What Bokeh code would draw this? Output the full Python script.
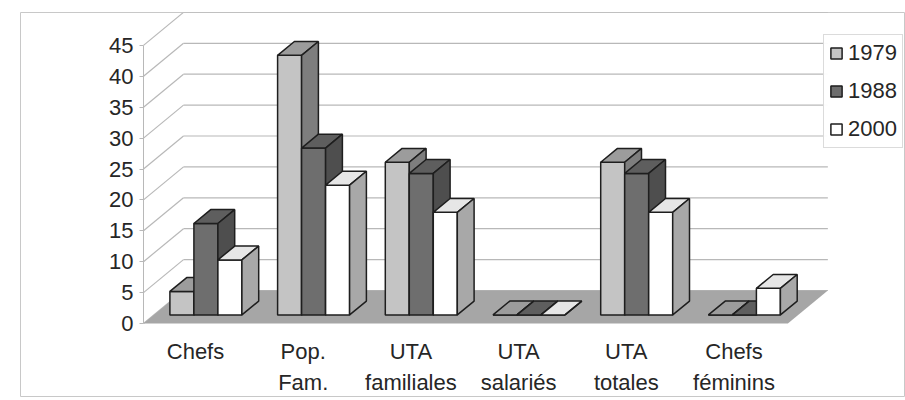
from bokeh.plotting import figure
from bokeh.models import FixedTicker, Legend, LegendItem, Range1d
from bokeh.embed import file_html
from bokeh.resources import INLINE
from bokeh.core.properties import value

# ---- data -------------------------------------------------------------
categories = ["Chefs", "Pop.\nFam.", "UTA\nfamiliales", "UTA\nsalariés",
              "UTA\ntotales", "Chefs\nféminins"]
years = ["1979", "1988", "2000"]
v1979 = [3.8, 42.0, 24.7, 0.0, 24.7, 0.0]
v1988 = [14.8, 27.0, 22.9, 0.0, 22.9, 0.0]
v2000 = [8.9, 21.0, 16.6, 0.0, 16.6, 4.3]
y_ticks = [0, 5, 10, 15, 20, 25, 30, 35, 40, 45]

# ---- styles -----------------------------------------------------------
FONT = "Liberation Sans"
TEXT_COLOR = "#262626"
front_colors = ["#c4c4c4", "#6e6e6e", "#ffffff"]
top_colors = ["#9c9c9c", "#5e5e5e", "#e6e6e6"]
side_colors = ["#7e7e7e", "#4e4e4e", "#a8a8a8"]
EDGE = "#1e1e1e"
FLOOR = "#a6a6a6"
GRID = "#b8b8b8"

# ---- projection geometry (pixels per unit) ----------------------------
PXX = 107.7          # px per category step
PXY = 6.18           # px per value unit
DX = 40 / PXX        # depth vector (x, in category units)
DY = 33 / PXY        # depth vector (y, in value units)
T0, T1 = 0.26, 0.68  # bar front / back depth fraction
BW = 24 / PXX        # bar width
WALL_L = -52 / PXX   # front plane of the left wall
WALL_R = 5.5         # right end of floor / back wall

p = figure(width=905, height=400, output_backend="svg", toolbar_location=None,
           x_axis_location=None,
           x_range=Range1d((20 - 195) / PXX, (905 - 195) / PXX),
           y_range=Range1d((323 - 396) / PXY, (323 - 12) / PXY),
           min_border_left=20, min_border_top=12, min_border_right=0, min_border_bottom=4)
p.outline_line_color = "#c8c8c8"
p.grid.visible = False
p.background_fill_color = "white"

# back wall gridlines and side wall diagonals
p.segment(x0=[WALL_L + DX] * len(y_ticks), y0=[t + DY for t in y_ticks],
          x1=[WALL_R + DX] * len(y_ticks), y1=[t + DY for t in y_ticks],
          line_color=GRID, line_width=1.2)
p.segment(x0=[WALL_L] * len(y_ticks), y0=y_ticks,
          x1=[WALL_L + DX] * len(y_ticks), y1=[t + DY for t in y_ticks],
          line_color=GRID, line_width=1.2)

# floor
p.patch(x=[WALL_L, WALL_R, WALL_R + DX, WALL_L + DX], y=[0, 0, DY, DY],
        fill_color=FLOOR, line_color=None)

# bars
series = [v1979, v1988, v2000]
fronts = []
ddx, ddy = (T1 - T0) * DX, (T1 - T0) * DY
for k, vals in enumerate(series):
    left, right, bottom, top = [], [], [], []
    tx, ty, sx, sy = [], [], [], []
    for i, v in enumerate(vals):
        x0 = i - 1.5 * BW + k * BW + T0 * DX
        x1 = x0 + BW
        yb = T0 * DY
        yt = yb + v
        left.append(x0); right.append(x1); bottom.append(yb); top.append(yt)
        tx.append([x0, x1, x1 + ddx, x0 + ddx]); ty.append([yt, yt, yt + ddy, yt + ddy])
        sx.append([x1, x1 + ddx, x1 + ddx, x1]); sy.append([yb, yb + ddy, yt + ddy, yt])
    r = p.quad(left=left, right=right, bottom=bottom, top=top,
               fill_color=front_colors[k], line_color=EDGE, line_width=1.5)
    p.patches(xs=tx, ys=ty, fill_color=top_colors[k], line_color=EDGE, line_width=1.5)
    p.patches(xs=sx, ys=sy, fill_color=side_colors[k], line_color=EDGE, line_width=1.5)
    fronts.append(r)

# category labels
p.text(x=list(range(len(categories))), y=[(323 - 338) / PXY] * len(categories),
       text=categories, text_align="center", text_baseline="top",
       text_font=value(FONT), text_font_size=value("22px"), text_color=TEXT_COLOR,
       text_line_height=1.25)

# y axis (front plane of the left wall)
ax = p.yaxis[0]
ax.fixed_location = WALL_L
ax.bounds = (0, 45)
ax.ticker = FixedTicker(ticks=y_ticks)
ax.axis_line_color = GRID
ax.major_tick_line_color = GRID
ax.major_tick_out = 4
ax.major_tick_in = 0
ax.minor_tick_out = 0
ax.minor_tick_in = 0
ax.major_label_standoff = 6
ax.major_label_text_font = FONT
ax.major_label_text_font_size = "22px"
ax.major_label_text_color = TEXT_COLOR

legend = Legend(items=[LegendItem(label=y, renderers=[r]) for y, r in zip(years, fronts)],
                location=(803, 248))
legend.border_line_color = "#b8b8b8"
legend.background_fill_color = "white"
legend.label_text_font = FONT
legend.label_text_font_size = "22px"
legend.label_text_color = TEXT_COLOR
legend.label_height = 22
legend.glyph_height = 14
legend.glyph_width = 14
legend.spacing = 12
legend.padding = 5
legend.margin = 0
legend.label_standoff = 5
p.add_layout(legend)

open("out.html", "w").write(file_html(p, INLINE))
